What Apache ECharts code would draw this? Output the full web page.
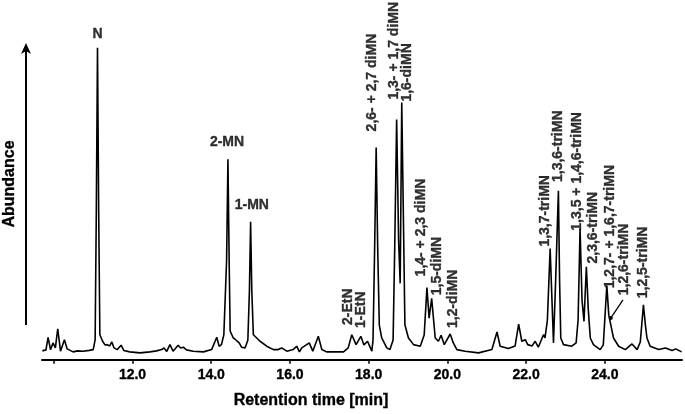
<!DOCTYPE html>
<html><head><meta charset="utf-8">
<script src="https://cdn.jsdelivr.net/npm/echarts@6/dist/echarts.min.js"></script>
<style>html,body{margin:0;padding:0;background:#fff}#c{width:685px;height:414px}</style>
</head><body><div id="c"></div>
<script>
// x-axis ticks (min) and labelled ticks
const xTicks = [10, 12, 14, 16, 18, 20, 22, 24];
const xTickLabels = [12, 14, 16, 18, 20, 22, 24];

// chromatogram trace: [retention time (min), abundance (arbitrary)]
const trace = [
[9.71, 9],[9.80, 10],[9.855, 22.7],[9.916, 10.3],[9.98, 17],[10.04, 12],[10.10, 31.3],[10.17, 8.7],[10.27, 20.3],[10.34, 11],[10.39, 11],[10.49, 8],[10.60, 9],[10.745, 8.7],[10.90, 9.5],[11.00, 10.3],
[11.05, 20],[11.08, 150],[11.11, 314.3],[11.14, 150],[11.17, 25.3],[11.24, 18.7],[11.30, 15],[11.355, 15.3],[11.42, 14],[11.475, 18],[11.53, 12],[11.61, 10.3],[11.71, 14.7],[11.78, 9.3],[11.93, 8],
[12.19, 7],[12.44, 8],[12.61, 9],[12.74, 10.3],[12.80, 12],[12.87, 8.5],[12.95, 15.3],[13.03, 8.7],[13.16, 14.7],[13.22, 12],[13.29, 12.7],[13.37, 10],[13.54, 8.7],[13.80, 8],
[14.01, 10.3],[14.14, 22.7],[14.20, 13.7],[14.26, 15.3],[14.32, 25.3],[14.39, 100],[14.424, 202],[14.455, 100],[14.48, 29],[14.56, 22],[14.645, 19.3],[14.71, 17],[14.77, 12.7],[14.86, 12],
[14.93, 20],[14.97, 70],[15.00, 139],[15.03, 70],[15.07, 25.3],[15.24, 18.7],[15.41, 13.7],[15.58, 10.3],[15.70, 10.3],[15.79, 12],[15.92, 8.7],[16.08, 10.3],[16.17, 13.7],[16.24, 8],[16.30, 12],[16.34, 10],[16.49, 17],[16.58, 8.7],[16.72, 23.7],[16.81, 10.3],[16.93, 8],
[17.36, 8],[17.48, 12],[17.57, 25.3],[17.68, 15.3],[17.80, 23.7],[17.88, 15],[17.97, 18.7],[18.08, 8.7],
[18.11, 20],[18.15, 110],[18.19, 213.7],[18.23, 110],[18.27, 35],[18.33, 22],[18.46, 12],[18.54, 10.3],[18.62, 20],[18.66, 110],[18.71, 242],[18.76, 120],[18.80, 77],[18.84, 259],[18.89, 120],[18.92, 35.3],
[19.01, 22],[19.14, 15.3],[19.31, 13.7],[19.41, 25],[19.48, 72.7],[19.535, 42],[19.60, 62],[19.69, 22],[19.77, 18.7],[19.84, 24.7],[19.92, 15.3],[20.07, 26],[20.15, 17],[20.24, 10.3],[20.45, 8.7],[20.79, 7],
[21.13, 10.3],[21.26, 28],[21.34, 13.7],[21.55, 11.3],[21.72, 14],[21.81, 36],[21.89, 18.7],[21.98, 20.3],[22.04, 15.3],[22.15, 14],[22.23, 18.7],[22.31, 12.7],[22.44, 25.3],[22.48, 22],
[22.54, 40],[22.61, 112],[22.695, 17],[22.75, 80],[22.82, 170.3],[22.85, 80],[22.88, 22],[22.95, 15.3],[23.16, 13.7],[23.27, 17],[23.32, 40],[23.37, 132],[23.42, 60],[23.47, 38.7],[23.53, 93.7],[23.58, 50],[23.63, 22],[23.71, 15.3],[23.88, 10.3],
[23.96, 15],[24.05, 74.7],[24.10, 45],[24.14, 43.7],[24.22, 22],[24.35, 13.7],[24.52, 10.3],[24.69, 16],[24.82, 10.3],[24.90, 18],[24.98, 55.3],[25.03, 35],[25.07, 22],[25.15, 13.7],[25.37, 10.3],[25.54, 12],[25.71, 9.3],[25.80, 11],[25.95, 8]
];

// peak labels read horizontally
const flatLabelText = ['N', '2-MN', '1-MN'];
const flatLabelAt = [[11.11, 328], [14.40, 219], [15.03, 156]];

// peak labels read upward (rotated)
const upLabelText = ['2-EtN', '1-EtN', '2,6- + 2,7 diMN', '1,3- + 1,7 diMN', '1,6-diMN', '1,4- + 2,3 diMN', '1,5-diMN', '1,2-diMN',
  '1,3,7-triMN', '1,3,6-triMN', '1,3,5 + 1,4,6-triMN', '2,3,6-triMN', '1,2,7- + 1,6,7-triMN', '1,2,6-triMN', '1,2,5-triMN'];
const upLabelAt = [[17.475, 35], [17.80, 32], [18.08, 230], [18.645, 262], [18.975, 260], [19.33, 84], [19.73, 65], [20.14, 32],
  [22.48, 114], [22.815, 179], [23.30, 130], [23.705, 97], [24.137, 72], [24.49, 65], [24.976, 62]];

// leader line from the 1,2,6-triMN label to its shoulder
const leader = [[24.46, 60.3], [24.15, 42]];

const FONT = "'Liberation Sans', Arial, sans-serif";
const heavy = {fontFamily: FONT, fontWeight: 'bold', color: '#000', textBorderColor: '#000', textBorderWidth: 0.35};
const chart = echarts.init(document.getElementById('c'), null, {renderer: 'canvas'});
chart.setOption({
  animation: false,
  backgroundColor: '#fff',
  grid: {left: 42, right: 3, top: 42, bottom: 52},
  xAxis: {
    type: 'value', min: 9.7, max: 25.96,
    axisLine: {lineStyle: {color: '#000', width: 2}},
    axisTick: {customValues: xTicks, length: 4, lineStyle: {color: '#000', width: 1.5}},
    axisLabel: Object.assign({customValues: xTickLabels, formatter: v => v.toFixed(1), fontSize: 14, margin: 8}, heavy),
    splitLine: {show: false},
    name: 'Retention time [min]', nameLocation: 'middle', nameGap: 33,
    nameTextStyle: Object.assign({fontSize: 16, padding: [0, 102, 0, 0]}, heavy)
  },
  yAxis: {type: 'value', min: 0, max: 320, show: false},
  graphic: [
    {type: 'line', shape: {x1: 26, y1: 325, x2: 26, y2: 50}, style: {stroke: '#000', lineWidth: 2}},
    {type: 'polygon', shape: {points: [[26, 43], [31, 54], [26, 51], [21, 54]]}, style: {fill: '#000'}},
    {type: 'text', x: 10, y: 184, rotation: Math.PI / 2, style: {text: 'Abundance', fill: '#000', stroke: '#000', lineWidth: 0.35, font: "bold 16px 'Liberation Sans', Arial, sans-serif", align: 'center', verticalAlign: 'middle'}}
  ],
  series: [
    {type: 'line', data: trace, showSymbol: false, lineStyle: {color: '#000', width: 1.6}, silent: true, z: 3},
    {type: 'line', data: [{value: leader[0], symbol: 'none'}, {value: leader[1], symbol: 'circle', symbolSize: 4}],
      lineStyle: {color: '#000', width: 1.3}, itemStyle: {color: '#000'}, showSymbol: true, silent: true, z: 4},
    {type: 'scatter', symbolSize: 0, silent: true, z: 5, clip: false,
      data: flatLabelAt.map((p, i) => ({value: p, name: flatLabelText[i]})),
      label: Object.assign({show: true, position: 'inside', formatter: p => p.name, fontSize: 14, align: 'center', verticalAlign: 'middle'}, heavy)},
    {type: 'scatter', symbolSize: 0, silent: true, z: 5, clip: false,
      data: upLabelAt.map((p, i) => ({value: p, name: upLabelText[i]})),
      label: Object.assign({show: true, position: 'inside', rotate: 90, formatter: p => p.name, fontSize: 14, align: 'left', verticalAlign: 'middle'}, heavy)}
  ]
});
</script></body></html>
